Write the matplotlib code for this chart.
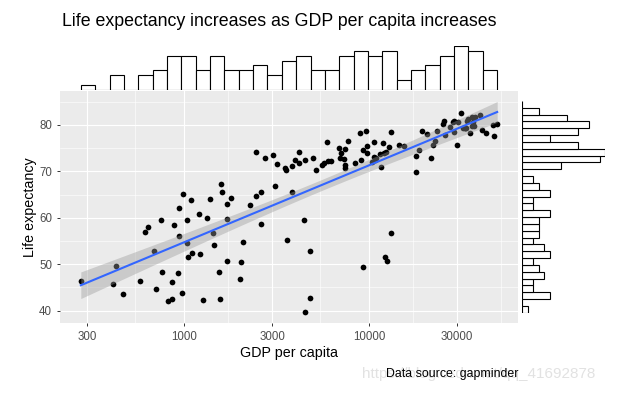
import numpy as np
import matplotlib
matplotlib.use("Agg")
import matplotlib.pyplot as plt
from matplotlib.ticker import FixedLocator, NullFormatter

plt.rcParams['font.family'] = ['Liberation Sans', 'DejaVu Sans']

# gapminder, 2007
countries = [
    "Afghanistan", "Albania", "Algeria", "Angola", "Argentina", "Australia", "Austria", "Bahrain",
    "Bangladesh", "Belgium", "Benin", "Bolivia", "Bosnia and Herzegovina", "Botswana", "Brazil",
    "Bulgaria", "Burkina Faso", "Burundi", "Cambodia", "Cameroon", "Canada", "Central African Republic",
    "Chad", "Chile", "China", "Colombia", "Comoros", "Congo, Dem. Rep.", "Congo, Rep.", "Costa Rica",
    "Cote d'Ivoire", "Croatia", "Cuba", "Czech Republic", "Denmark", "Djibouti", "Dominican Republic",
    "Ecuador", "Egypt", "El Salvador", "Equatorial Guinea", "Eritrea", "Ethiopia", "Finland", "France",
    "Gabon", "Gambia", "Germany", "Ghana", "Greece", "Guatemala", "Guinea", "Guinea-Bissau", "Haiti",
    "Honduras", "Hong Kong, China", "Hungary", "Iceland", "India", "Indonesia", "Iran", "Iraq",
    "Ireland", "Israel", "Italy", "Jamaica", "Japan", "Jordan", "Kenya", "Korea, Dem. Rep.",
    "Korea, Rep.", "Kuwait", "Lebanon", "Lesotho", "Liberia", "Libya", "Madagascar", "Malawi",
    "Malaysia", "Mali", "Mauritania", "Mauritius", "Mexico", "Mongolia", "Montenegro", "Morocco",
    "Mozambique", "Myanmar", "Namibia", "Nepal", "Netherlands", "New Zealand", "Nicaragua", "Niger",
    "Nigeria", "Norway", "Oman", "Pakistan", "Panama", "Paraguay", "Peru", "Philippines", "Poland",
    "Portugal", "Puerto Rico", "Reunion", "Romania", "Rwanda", "Sao Tome and Principe", "Saudi Arabia",
    "Senegal", "Serbia", "Sierra Leone", "Singapore", "Slovak Republic", "Slovenia", "Somalia",
    "South Africa", "Spain", "Sri Lanka", "Sudan", "Swaziland", "Sweden", "Switzerland", "Syria",
    "Taiwan", "Tanzania", "Thailand", "Togo", "Trinidad and Tobago", "Tunisia", "Turkey", "Uganda",
    "United Kingdom", "United States", "Uruguay", "Venezuela", "Vietnam", "West Bank and Gaza",
    "Yemen, Rep.", "Zambia", "Zimbabwe",
]
gdp_per_cap = [
    974.6, 5937.0, 6223.4, 4797.2, 12779.4, 34435.4, 36126.5, 29796.0,
    1391.3, 33692.6, 1441.3, 3822.1, 7446.3, 12569.9, 9065.8,
    10680.8, 1217.0, 430.1, 1713.8, 2042.1, 36319.2, 706.0,
    1704.1, 13171.6, 4959.1, 7006.6, 986.1, 277.6, 3632.6, 9645.1,
    1544.8, 14619.2, 8948.1, 22833.3, 35278.4, 2082.5, 6025.4,
    6873.3, 5581.2, 5728.4, 12154.1, 641.4, 690.8, 33207.1, 30470.0,
    13206.5, 752.7, 32170.4, 1327.6, 27538.4, 5186.1, 942.7, 579.2, 1201.6,
    3548.3, 39725.0, 18008.9, 36180.8, 2452.2, 3540.7, 11605.7, 4471.1,
    40676.0, 25523.3, 28569.7, 7320.9, 31656.1, 4519.5, 1463.2, 1593.1,
    23348.1, 47307.0, 10461.1, 1569.3, 414.5, 12057.5, 1044.8, 759.3,
    12451.7, 1042.6, 1803.2, 10957.0, 11977.6, 3095.8, 9253.9, 3820.2,
    823.7, 944.0, 4811.1, 1091.4, 36797.9, 25185.0, 2749.3, 619.7,
    2014.0, 49357.2, 22316.2, 2606.0, 9809.2, 4172.8, 7408.9, 3190.5, 15389.9,
    20509.6, 19328.7, 7670.1, 10808.5, 863.1, 1598.4, 21654.8,
    1712.5, 9786.5, 862.5, 47143.2, 18678.3, 25768.3, 926.1,
    9269.7, 28821.1, 3970.1, 2602.4, 4513.5, 33859.7, 37506.4, 4184.5,
    28718.3, 1107.5, 7458.4, 883.0, 18008.5, 7092.9, 8458.3, 1056.4,
    33203.3, 42951.7, 10611.5, 11415.8, 2441.6, 3025.3,
    2280.8, 1271.2, 469.7,
]
life_exp = [
    43.83, 76.42, 72.30, 42.73, 75.32, 81.24, 79.83, 75.64,
    64.06, 79.44, 56.73, 65.55, 74.85, 50.73, 72.39,
    73.00, 52.30, 49.58, 59.72, 50.43, 80.65, 44.74,
    50.65, 78.55, 72.96, 72.89, 65.15, 46.46, 55.32, 78.78,
    48.33, 75.75, 78.27, 76.49, 78.33, 54.79, 72.24,
    74.99, 71.34, 71.88, 51.58, 58.04, 52.95, 79.31, 80.66,
    56.74, 59.45, 79.41, 60.02, 79.48, 70.26, 56.01, 46.39, 60.92,
    70.20, 82.21, 73.34, 81.76, 64.70, 70.65, 70.96, 59.55,
    78.89, 80.75, 80.55, 72.57, 82.60, 72.54, 54.11, 67.30,
    78.62, 77.59, 71.99, 42.59, 45.68, 73.95, 59.44, 48.30,
    74.24, 54.47, 64.16, 72.80, 76.20, 66.80, 74.54, 71.16,
    42.08, 62.07, 52.91, 63.79, 79.76, 80.20, 72.90, 56.87,
    46.86, 80.20, 75.64, 65.48, 75.54, 71.75, 71.42, 71.69, 75.56,
    78.10, 78.75, 76.44, 72.48, 46.24, 65.53, 72.78,
    63.06, 74.00, 42.57, 79.97, 74.66, 77.93, 48.16,
    49.34, 80.94, 72.40, 58.56, 39.61, 80.88, 81.70, 74.14,
    78.40, 52.52, 70.62, 58.42, 69.82, 73.92, 71.78, 51.54,
    79.43, 78.24, 76.38, 73.75, 74.25, 73.42,
    62.70, 42.38, 43.49,
]

x_breaks = [300, 1000, 3000, 10000, 30000]
x_labels = ["300", "1000", "3000", "10000", "30000"]
y_breaks = [40, 50, 60, 70, 80]

title = "Life expectancy increases as GDP per capita increases"
x_title = "GDP per capita"
y_title = "Life expectancy"
caption = "Data source: gapminder"
watermark = "https://blog.csdn.net/qq_41692878"

W, H = 620, 398


def px(x, y):
    # pixel position (top-left origin) -> figure fraction
    return x / W, 1 - y / H


def rect(left, top, right, bottom):
    return [left / W, 1 - bottom / H, (right - left) / W, (bottom - top) / H]


lx = np.log10(np.array(gdp_per_cap))
ly = np.array(life_exp)

# linear fit on log10(gdp) with 95% confidence band (geom_smooth(method = "lm"))
n = len(lx)
slope, intercept = np.polyfit(lx, ly, 1)
resid = ly - (intercept + slope * lx)
sigma = np.sqrt(np.sum(resid ** 2) / (n - 2))
sxx = np.sum((lx - lx.mean()) ** 2)
xs = np.linspace(lx.min(), lx.max(), 80)
fit = intercept + slope * xs
se = sigma * np.sqrt(1 / n + (xs - lx.mean()) ** 2 / sxx)
t975 = 1.977  # t quantile, df = 140
lower, upper = fit - t975 * se, fit + t975 * se

fig = plt.figure(figsize=(W / 100, H / 100), dpi=100)
fig.patch.set_facecolor("white")

ax = fig.add_axes(rect(60, 91, 518, 323))
ax.set_facecolor("#EBEBEB")
for s in ax.spines.values():
    s.set_visible(False)
ax.set_xscale("log")

ax.scatter(10 ** lx, ly, s=17, color="black", linewidths=0, zorder=3)
ax.fill_between(10 ** xs, lower, upper, color="#999999", alpha=0.4, linewidth=0, zorder=4)
ax.plot(10 ** xs, fit, color="#3366FF", lw=1.5, zorder=5)

xr = lx.max() - lx.min()
ax.set_xlim(10 ** (lx.min() - 0.05 * xr), 10 ** (lx.max() + 0.05 * xr))
ylo = min(ly.min(), lower.min())
yhi = max(ly.max(), upper.max())
ax.set_ylim(ylo - 0.05 * (yhi - ylo), yhi + 0.05 * (yhi - ylo))

lb = np.log10(x_breaks)
x_minor = 10 ** np.concatenate([[lb[0] - (lb[1] - lb[0]) / 2], (lb[:-1] + lb[1:]) / 2,
                                [lb[-1] + (lb[-1] - lb[-2]) / 2]])
ax.xaxis.set_major_locator(FixedLocator(x_breaks))
ax.set_xticklabels(x_labels)
ax.xaxis.set_minor_locator(FixedLocator(x_minor))
ax.xaxis.set_minor_formatter(NullFormatter())
ax.yaxis.set_major_locator(FixedLocator(y_breaks))
ax.yaxis.set_minor_locator(FixedLocator([35, 45, 55, 65, 75, 85]))
ax.grid(which="major", color="white", lw=0.8)
ax.grid(which="minor", color="white", lw=0.4)
ax.set_axisbelow(True)
ax.tick_params(which="major", length=2.2, width=0.7, color="#333333",
               labelsize=8.3, labelcolor="#4D4D4D", pad=3.5)
ax.tick_params(which="minor", length=0)

# marginal histogram on top
ax_top = fig.add_axes(rect(60, 46, 518, 89.5), sharex=ax)
counts, edges = np.histogram(lx, bins=29)
ax_top.bar(10 ** edges[:-1], counts, width=10 ** edges[1:] - 10 ** edges[:-1], align="edge",
           color="white", edgecolor="black", linewidth=0.8)
ax_top.set_ylim(0, counts.max())
ax_top.axis("off")

# marginal histogram on the right
life_edges = 38.26 + 1.5 * np.arange(32)
rcounts, redges = np.histogram(ly, bins=life_edges)
ax_right = fig.add_axes(rect(522.3, 101, 605.3, 312.7))
ax_right.barh(redges[:-1], rcounts, height=np.diff(redges), align="edge",
              color="white", edgecolor="black", linewidth=0.8)
ax_right.set_ylim(redges[0], redges[-1])
ax_right.set_xlim(0, rcounts.max())
ax_right.axis("off")

fig.text(*px(62, 26), title, fontsize=12.8, va="baseline", ha="left")
fig.text(*px(289, 353), x_title, fontsize=10.3, va="center", ha="center")
fig.text(*px(30, 207), y_title, fontsize=10.3, va="center", ha="center", rotation=90)
fig.text(*px(362, 378), watermark, fontsize=11, color="#E2E2E2", va="baseline", ha="left")
fig.text(*px(518, 377), caption, fontsize=8.9, va="baseline", ha="right")

fig.savefig("out.png", dpi=100)
